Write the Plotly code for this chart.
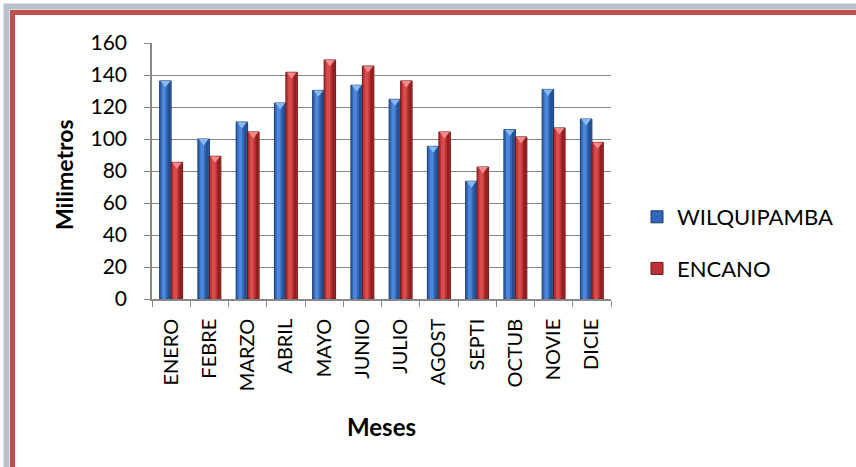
import plotly.graph_objects as go

# Monthly rainfall (mm) at two stations
months = ["ENERO", "FEBRE", "MARZO", "ABRIL", "MAYO", "JUNIO",
          "JULIO", "AGOST", "SEPTI", "OCTUB", "NOVIE", "DICIE"]
wilquipamba = [136.3, 100.0, 110.6, 122.5, 130.4, 133.6, 124.8, 95.4, 73.6, 105.9, 131.0, 112.5]
encano = [85.4, 89.2, 104.4, 141.7, 149.4, 145.6, 136.3, 104.4, 82.5, 101.3, 106.9, 97.9]
y_ticks = [0, 20, 40, 60, 80, 100, 120, 140, 160]

# page geometry (pixels)
WIDTH, HEIGHT = 856, 467
ML, MR, MT, MB = 152, 245, 43, 168
PW = WIDTH - ML - MR
PH = HEIGHT - MT - MB


def fx(px):
    return (px - ML) / PW


def fy(py):
    return (HEIGHT - MB - py) / PH


FONT = "Lato, 'Open Sans', sans-serif"
BAR_W = 0.3
X_RANGE = [-0.5, len(months) - 0.5]

series = [
    # name, values, offset, base, edge, highlight, shade, cap
    ("WILQUIPAMBA", wilquipamba, -BAR_W, "#3266b8", "#1b3a6b", "#4c87da", "#24508f", "#86b9f2"),
    ("ENCANO", encano, 0.0, "#bd3234", "#6e1717", "#d84c4c", "#8f2020", "#f28a8a"),
]

fig = go.Figure()

for name, vals, off, base, edge, hi, shade, cap in series:
    fig.add_trace(go.Bar(
        x=months, y=vals, name=name, offset=off, width=BAR_W,
        marker=dict(color=base, line=dict(color=edge, width=1)),
        legendgroup=name, hoverinfo="x+y+name",
    ))
    # cylinder-like shading stripes
    fig.add_trace(go.Bar(
        x=months, y=vals, offset=off + BAR_W * 0.2, width=BAR_W * 0.33,
        marker=dict(color=hi, line=dict(width=0)),
        showlegend=False, hoverinfo="skip",
    ))
    fig.add_trace(go.Bar(
        x=months, y=vals, offset=off + BAR_W * 0.7, width=BAR_W * 0.22,
        marker=dict(color=shade, line=dict(width=0)),
        showlegend=False, hoverinfo="skip",
    ))

# bevelled caps on top of each bar, placed on a linear twin of the month axis
for name, vals, off, base, edge, hi, shade, cap in series:
    centre = off + BAR_W / 2
    fig.add_trace(go.Scatter(
        x=[i + centre for i in range(len(months))], y=[v - 1.4 for v in vals],
        xaxis="x2", mode="markers",
        marker=dict(symbol="triangle-down", size=8.5, color=cap, line=dict(width=0)),
        showlegend=False, hoverinfo="skip", cliponaxis=False,
    ))

# frame around the chart
shapes = [
    dict(type="rect", xref="paper", yref="paper",
         x0=fx(6.5), y0=fy(6.5), x1=fx(WIDTH + 40), y1=fy(HEIGHT + 40),
         line=dict(color="#b9c1cd", width=6), layer="below"),
    dict(type="rect", xref="paper", yref="paper",
         x0=fx(12.5), y0=fy(12.5), x1=fx(WIDTH + 40), y1=fy(HEIGHT + 40),
         line=dict(color="#c0504d", width=5), layer="below"),
]

annotations = [
    dict(text="<b>Milimetros</b>", x=fx(64), y=fy(175), xref="paper", yref="paper",
         textangle=-90, showarrow=False, xanchor="center", yanchor="middle",
         font=dict(family=FONT, size=23, color="#000")),
    dict(text="<b>Meses</b>", x=fx(381), y=fy(426), xref="paper", yref="paper",
         showarrow=False, xanchor="center", yanchor="middle",
         font=dict(family=FONT, size=24, color="#000")),
]

fig.update_layout(
    width=WIDTH, height=HEIGHT,
    margin=dict(l=ML, r=MR, t=MT, b=MB, pad=0),
    paper_bgcolor="white", plot_bgcolor="white",
    barmode="overlay",
    font=dict(family=FONT, size=20, color="#000"),
    showlegend=True,
    legend=dict(x=fx(637), y=fy(243), xanchor="left", yanchor="middle",
                font=dict(family=FONT, size=22, color="#000"),
                tracegroupgap=20, bgcolor="rgba(0,0,0,0)"),
    shapes=shapes, annotations=annotations,
    xaxis=dict(
        type="category", categoryorder="array", categoryarray=months, range=X_RANGE,
        tickangle=-90, tickfont=dict(family=FONT, size=20, color="#000"),
        ticks="outside", tickson="boundaries", ticklen=6, tickcolor="#888",
        ticklabelstandoff=10,
        showline=True, linecolor="#888", linewidth=1.5,
        showgrid=False, zeroline=False,
    ),
    xaxis2=dict(overlaying="x", range=X_RANGE, visible=False, fixedrange=True),
    yaxis=dict(
        range=[0, 160], tickvals=y_ticks,
        tickfont=dict(family=FONT, size=21, color="#000"),
        ticks="outside", ticklen=6, tickcolor="#888", ticklabelstandoff=13,
        showline=True, linecolor="#888", linewidth=1.5,
        showgrid=True, gridcolor="#868686", gridwidth=1.4, zeroline=False,
    ),
)

fig.write_html("out.html")
